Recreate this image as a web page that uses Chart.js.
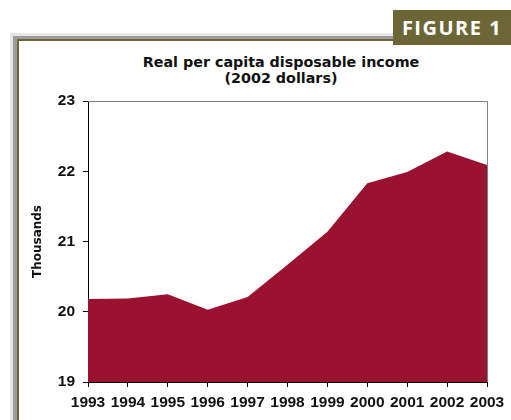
<!DOCTYPE html>
<html>
<head>
<meta charset="utf-8">
<script src="https://cdn.jsdelivr.net/npm/chart.js@4.4.1/dist/chart.umd.min.js"></script>
<style>
  html, body { margin:0; padding:0; background:#fff; }
  body { width:511px; height:420px; position:relative; overflow:hidden; }
  .b1 { position:absolute; left:10px; top:33px; width:501px; height:400px; background:#e6e6e6; }
  .b2 { position:absolute; left:13px; top:36px; width:498px; height:400px; background:#9c9c9c; }
  .b3 { position:absolute; left:17px; top:39px; width:494px; height:400px; background:#6c6535; }
  .b4 { position:absolute; left:19px; top:41px; width:492px; height:400px; background:#fff; }
  .badge { position:absolute; left:393px; top:10px; width:118px; height:35px; background:#6c6535;
           color:#fff; font-family:"Open Sans", sans-serif; font-weight:bold; font-size:20px;
           letter-spacing:1.5px; line-height:35px; text-align:center; }
  .title { position:absolute; left:81px; width:400px; top:54px; text-align:center;
           font-family:"DejaVu Sans", Verdana, sans-serif; font-weight:bold; font-size:14.3px;
           line-height:16px; color:#111; }
  canvas { position:absolute; left:0; top:0; }
</style>
</head>
<body>
<div class="b1"></div><div class="b2"></div><div class="b3"></div><div class="b4"></div>
<div class="badge">FIGURE 1</div>
<div class="title">Real per capita disposable income<br>(2002 dollars)</div>
<canvas id="c" width="511" height="420"></canvas>
<script>
const years = ["1993","1994","1995","1996","1997","1998","1999","2000","2001","2002","2003"];
const income = [20.18, 20.19, 20.25, 20.03, 20.21, 20.67, 21.14, 21.83, 21.99, 22.28, 22.09];
const yTicks = [19, 20, 21, 22, 23];

const frame = {
  id: 'frame',
  beforeDatasetsDraw(chart) {
    const { ctx, chartArea: a } = chart;
    ctx.save();
    ctx.strokeStyle = '#808080';
    ctx.lineWidth = 1;
    ctx.beginPath();
    ctx.moveTo(a.left, a.top + 0.5);
    ctx.lineTo(a.right + 0.5, a.top + 0.5);
    ctx.lineTo(a.right + 0.5, a.bottom);
    ctx.stroke();
    ctx.restore();
  }
};

const tickFont = { family: '"Liberation Sans", Arial, sans-serif', weight: 'bold', size: 15.5 };

new Chart(document.getElementById('c'), {
  type: 'line',
  data: {
    labels: years,
    datasets: [{
      data: income,
      fill: 'start',
      backgroundColor: '#9b1230',
      borderWidth: 0,
      borderColor: '#9b1230',
      pointRadius: 0,
      tension: 0
    }]
  },
  options: {
    responsive: false,
    animation: false,
    layout: { padding: { left: 10, right: 24, top: 101, bottom: 8 } },
    plugins: { legend: { display: false }, tooltip: { enabled: false }, title: { display: false } },
    scales: {
      x: {
        offset: false,
        afterFit(scale) { scale.height = 30; },
        grid: { drawOnChartArea: false, drawTicks: true, tickLength: 5, color: '#000' },
        border: { color: '#000', width: 1 },
        ticks: { color: '#111', font: tickFont, padding: 6.5, maxRotation: 0, autoSkip: false }
      },
      y: {
        min: 19, max: 23,
        afterBuildTicks(scale) { scale.ticks = yTicks.map(v => ({ value: v })); },
        afterFit(scale) { scale.width = 78; },
        grid: { drawOnChartArea: false, drawTicks: true, tickLength: 5, color: '#000' },
        border: { color: '#000', width: 1 },
        ticks: { color: '#111', font: tickFont, padding: 8 },
        title: {
          display: true, text: 'Thousands', color: '#111',
          font: { family: '"DejaVu Sans", Verdana, sans-serif', weight: 'bold', size: 12 },
          padding: { top: 21, bottom: 12 }
        }
      }
    }
  },
  plugins: [frame]
});
</script>
</body>
</html>
